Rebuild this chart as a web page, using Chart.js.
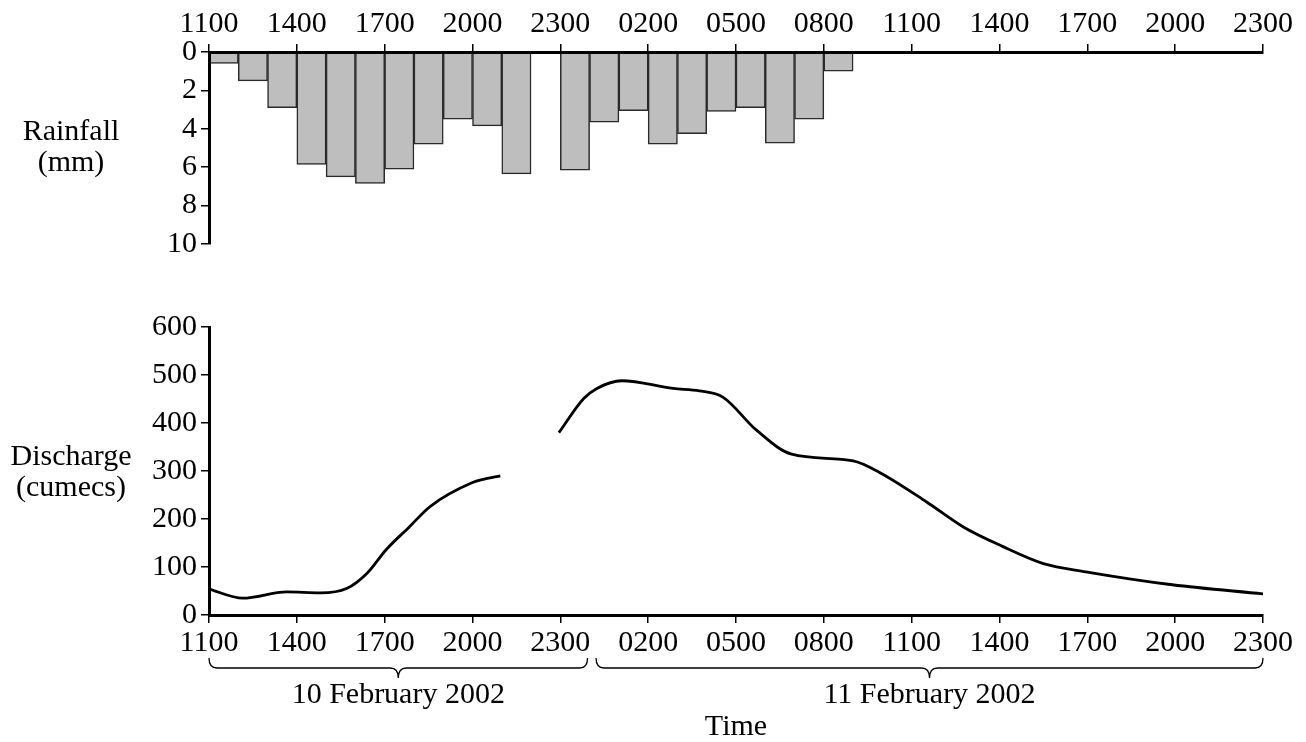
<!DOCTYPE html>
<html>
<head>
<meta charset="utf-8">
<script src="https://cdn.jsdelivr.net/npm/chart.js@4.4.1/dist/chart.umd.min.js"></script>
<style>
    html, body { margin: 0; padding: 0; background: #fff; }
    #wrap { position: relative; width: 1306px; height: 742px; overflow: hidden; }
    #rainChart { position: absolute; left: 0; top: 0; }
    #flowChart { position: absolute; left: 0; top: 262px; }
</style>
</head>
<body>
<div id="wrap">
    <canvas id="rainChart" width="1306" height="270"></canvas>
    <canvas id="flowChart" width="1306" height="480"></canvas>
</div>
<script>
// time axis labels, every 3 hours from 1100 on 10 Feb
const TIME_TICKS = ['1100', '1400', '1700', '2000', '2300', '0200', '0500', '0800',
                    '1100', '1400', '1700', '2000', '2300'];

// hourly rainfall (mm), hour starting at...
const RAIN_HOURS = ['1100', '1200', '1300', '1400', '1500', '1600', '1700', '1800',
                    '1900', '2000', '2100', '2200', '2300', '0000', '0100', '0200',
                    '0300', '0400', '0500', '0600', '0700', '0800'];
const RAINFALL = [0.6, 1.5, 2.9, 5.85, 6.5, 6.85, 6.1, 4.8,
                  3.5, 3.85, 6.35, null, 6.15, 3.65, 3.05, 4.8,
                  4.25, 3.1, 2.9, 4.75, 3.5, 1.0];

// discharge (cumecs), hours after 1100 on 10 Feb (null = gap in the record)
const FLOW_HOURS = [0, 1.15, 2.65, 3.8, 4.7, 5.4, 6.05, 6.85, 7.55, 9.0, 9.4, 9.95,
                    11,
                    11.95, 12.8, 13.25, 14.1, 15.85, 16.75, 17.55, 18.7, 19.9, 22.0,
                    22.9, 24.5, 25.75, 27.1, 28.5, 29.95, 32.9, 36];
const DISCHARGE = [54, 35, 48, 46, 55, 87, 136, 184, 226, 276, 283, 290,
                   null,
                   380, 451, 472, 488, 472, 467, 454, 385, 335, 321,
                   297, 236, 184, 143, 107, 90, 63, 44];

const DAY_BRACES = [
    { from: 0, to: 12.93, text: '10 February 2002' },
    { from: 13.22, to: 36, text: '11 February 2002' }
];

const SERIF = "'Liberation Serif', 'Times New Roman', serif";
Chart.defaults.font.family = SERIF;
Chart.defaults.font.size = 30;
Chart.defaults.color = '#000';

function timeAxis(position, height, pad) {
    return {
        type: 'linear',
        position: position,
        min: 0,
        max: 36,
        offset: false,
        ticks: {
            stepSize: 3,
            autoSkip: false,
            maxRotation: 0,
            padding: pad,
            callback: v => TIME_TICKS[Math.round(v / 3)]
        },
        grid: { drawOnChartArea: false, drawTicks: true, tickLength: 8, color: '#000', lineWidth: 1.5, offset: false },
        border: { display: true, color: '#000', width: 3, z: 1 },
        afterFit: s => { s.height = height; }
    };
}

function valueAxis(opts) {
    return Object.assign({
        grid: { drawOnChartArea: false, drawTicks: true, tickLength: 8, color: '#000', lineWidth: 1.5 },
        border: { display: true, color: '#000', width: 3, z: 1 },
        afterFit: s => { s.width = 209; }
    }, opts);
}

// horizontal two-line axis titles left of the y axis
function sideTitle(lines, y0) {
    return {
        id: 'sideTitle',
        afterDraw(chart) {
            const ctx = chart.ctx;
            ctx.save();
            ctx.font = '30px ' + SERIF;
            ctx.fillStyle = '#000';
            ctx.textAlign = 'center';
            ctx.textBaseline = 'middle';
            lines.forEach((t, i) => ctx.fillText(t, 71, y0 + i * 31));
            ctx.restore();
        }
    };
}

const dayBraces = {
    id: 'dayBraces',
    afterDraw(chart) {
        const ctx = chart.ctx;
        const xs = chart.scales.x;
        const y = chart.chartArea.bottom + 53;
        ctx.save();
        ctx.strokeStyle = '#000';
        ctx.lineWidth = 1.3;
        DAY_BRACES.forEach(b => {
            const x0 = xs.getPixelForValue(b.from);
            const x1 = xs.getPixelForValue(b.to);
            const xm = (x0 + x1) / 2;
            const h = 10, r = 8;
            ctx.beginPath();
            ctx.moveTo(x0, y - h);
            ctx.quadraticCurveTo(x0, y, x0 + r, y);
            ctx.lineTo(xm - r, y);
            ctx.quadraticCurveTo(xm, y, xm, y + h);
            ctx.quadraticCurveTo(xm, y, xm + r, y);
            ctx.lineTo(x1 - r, y);
            ctx.quadraticCurveTo(x1, y, x1, y - h);
            ctx.stroke();
            ctx.font = '30px ' + SERIF;
            ctx.fillStyle = '#000';
            ctx.textAlign = 'center';
            ctx.textBaseline = 'middle';
            ctx.fillText(b.text, xm, y + 27);
        });
        ctx.restore();
    }
};

// 1. Rainfall bars, hanging down from the top axis
const rainPoints = RAINFALL.map((v, i) => ({ x: i + 0.5, y: v })).filter(p => p.y !== null);
new Chart(document.getElementById('rainChart'), {
    type: 'bar',
    data: {
        datasets: [{
            data: rainPoints,
            backgroundColor: '#bebebe',
            borderColor: '#2a2a2a',
            borderWidth: 1.5,
            borderSkipped: false,
            barPercentage: 1,
            categoryPercentage: 1
        }]
    },
    options: {
        responsive: false,
        animation: false,
        layout: { padding: { left: 0, right: 43, top: 0, bottom: 26 } },
        plugins: { legend: { display: false }, tooltip: { enabled: false } },
        scales: {
            x: timeAxis('top', 52, 2),
            y: valueAxis({ min: 0, max: 10, reverse: true,
                           ticks: { stepSize: 2, padding: 4, autoSkip: false } })
        }
    },
    plugins: [sideTitle(['Rainfall', '(mm)'], 132)]
});

// 2. Discharge hydrograph
const flowPoints = FLOW_HOURS.map((h, i) => ({ x: h, y: DISCHARGE[i] }));
new Chart(document.getElementById('flowChart'), {
    type: 'line',
    data: {
        datasets: [{
            data: flowPoints,
            borderColor: '#000',
            borderWidth: 2.8,
            pointRadius: 0,
            fill: false,
            spanGaps: false,
            cubicInterpolationMode: 'monotone'
        }]
    },
    options: {
        responsive: false,
        animation: false,
        layout: { padding: { left: 0, right: 43, top: 65, bottom: 0 } },
        plugins: { legend: { display: false }, tooltip: { enabled: false } },
        scales: {
            x: Object.assign(timeAxis('bottom', 127, 2), {
                title: { display: true, text: 'Time', padding: 0, font: { size: 30, lineHeight: 1 } }
            }),
            y: valueAxis({ min: 0, max: 600, ticks: { stepSize: 100, padding: 4, autoSkip: false } })
        }
    },
    plugins: [sideTitle(['Discharge', '(cumecs)'], 195), dayBraces]
});
</script>
</body>
</html>
